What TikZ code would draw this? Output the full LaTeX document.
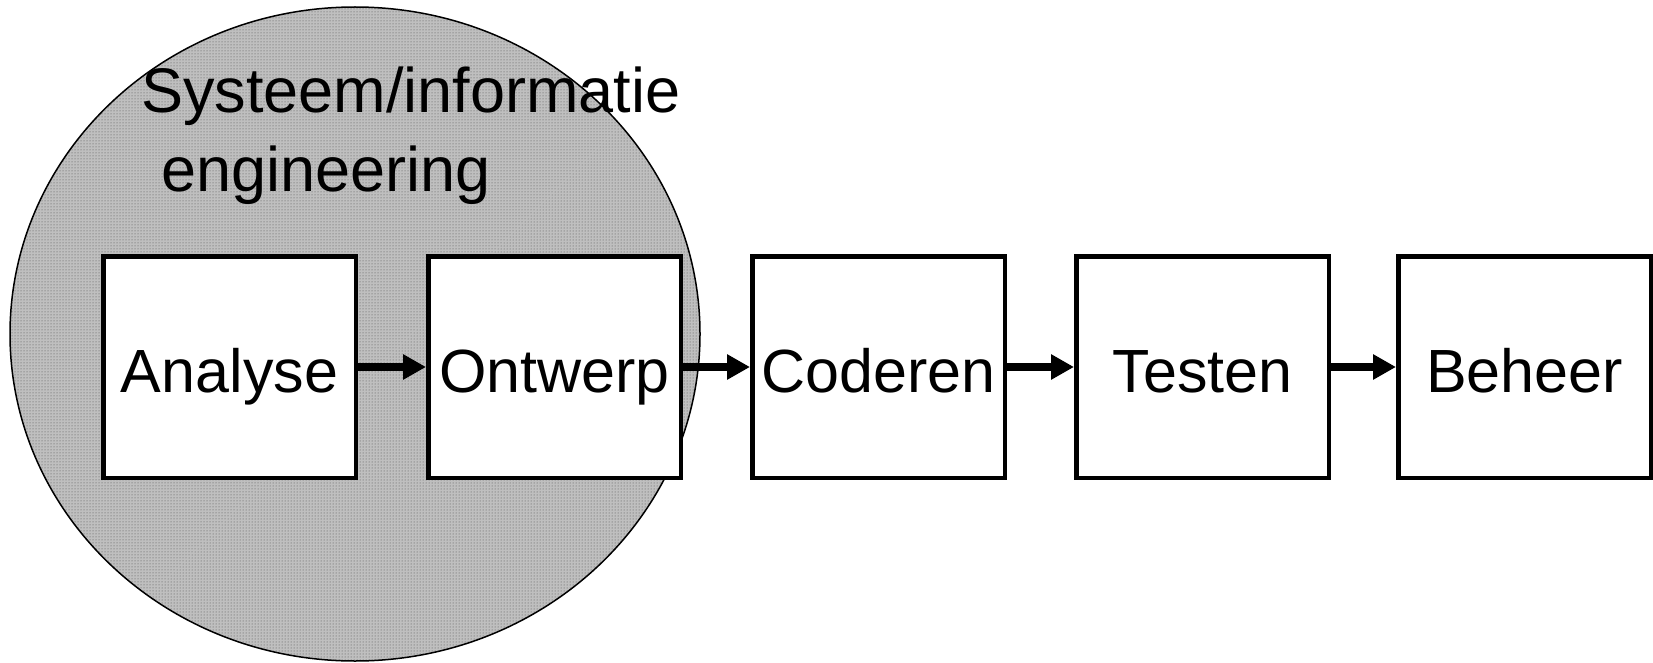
\documentclass[tikz,border=0pt]{standalone}
\usepackage{fontspec}
\setmainfont{Liberation Sans}
\usetikzlibrary{arrows.meta,patterns}
\begin{document}
\begin{tikzpicture}[x=1pt,y=-1pt,
  phase/.style={draw=black, line width=4.5pt, fill=white, inner sep=0pt,
    minimum width=252.5pt, minimum height=221.5pt,
    text height=50pt, text depth=0pt,
    font=\fontsize{61}{70}\selectfont},
  flow/.style={line width=8pt, -{Triangle[length=23pt,width=24pt]}},
  title/.style={anchor=base west, inner sep=0pt,
    font=\fontsize{63}{72}\selectfont}]
  \useasboundingbox (0,0) rectangle (1653,663);
  % shaded area of system/information engineering
  \fill[black!25] (355,334) ellipse [x radius=345, y radius=327];
  \fill[pattern=dots, pattern color=black!70] (355,334) ellipse [x radius=345, y radius=327];
  \draw[line width=1.5pt] (355,334) ellipse [x radius=345, y radius=327];
  \node[title] (t1) at (141,113) {Systeem/informatie};
  \node[title] (t2) at (161,192) {engineering};
  % phases
  \node[phase] (ana) at (229.5,367) {Analyse};
  \node[phase] (ont) at (554.5,367) {Ontwerp};
  \node[phase] (cod) at (878.5,367) {Coderen};
  \node[phase] (tes) at (1202.5,367) {Testen};
  \node[phase] (beh) at (1524.5,367) {Beheer};
  % arrows
  \draw[flow] (ana) -- (ont);
  \draw[flow] (ont) -- (cod);
  \draw[flow] (cod) -- (tes);
  \draw[flow] (tes) -- (beh);
\end{tikzpicture}
\end{document}
